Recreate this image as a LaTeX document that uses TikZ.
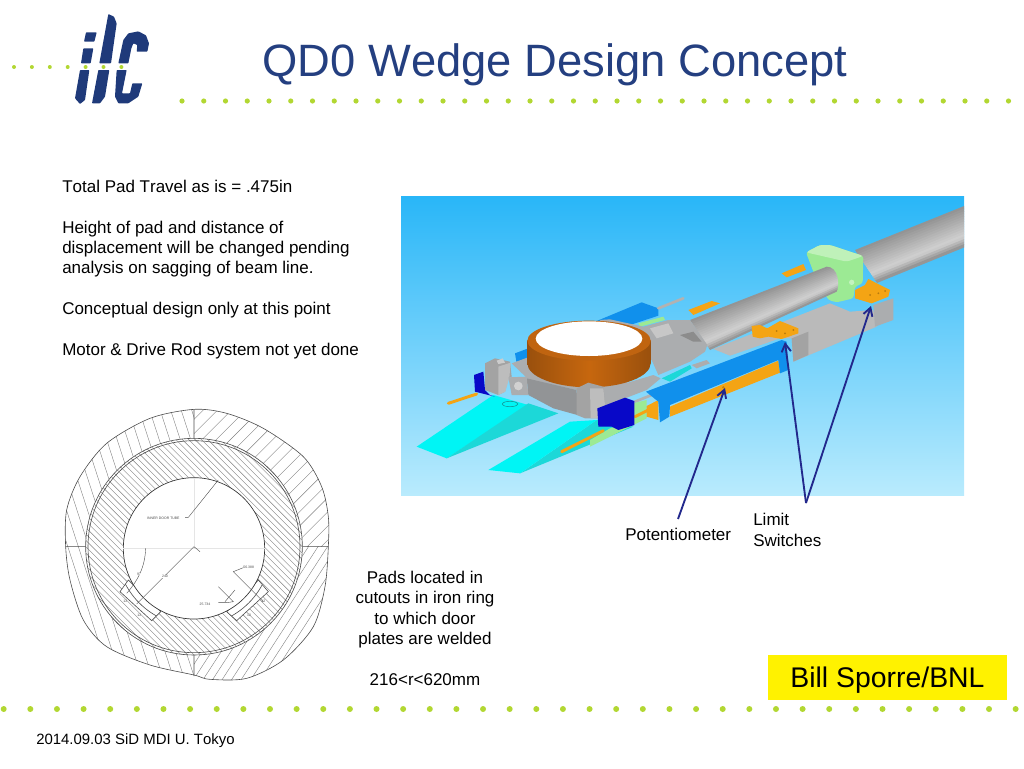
\documentclass[tikz,border=0pt]{standalone}
\usepackage{fontspec}
\setmainfont[Kerning=Off]{Liberation Sans}
\usetikzlibrary{positioning,arrows.meta}
\definecolor{ilcblue}{HTML}{1F3A7A}
\definecolor{titleblue}{HTML}{243F80}
\definecolor{dotgreen}{HTML}{B2D732}
\definecolor{skytop}{HTML}{29B6F8}
\definecolor{skylow}{HTML}{B9EBFD}
\definecolor{arrowblue}{HTML}{22288C}
\definecolor{padcyan}{HTML}{00F5F5}
\definecolor{paddark}{HTML}{1CD8D8}
\definecolor{barblue}{HTML}{1090EC}
\definecolor{blockblue}{HTML}{0808C8}
\definecolor{gold}{HTML}{F4A414}
\definecolor{brownrim}{HTML}{C06410}
\definecolor{collargreen}{HTML}{9CEA94}
\definecolor{greybody}{HTML}{ABADAF}
\definecolor{greywall}{HTML}{929496}
\tikzset{
  ilcpart/.style={fill=ilcblue, rounded corners=.5pt},
  dotmark/.style={fill=dotgreen},
  bodytext/.style={inner sep=0pt, align=left, font=\fontsize{12.75}{15.35}\selectfont},
  pointer/.style={draw=arrowblue, line width=1.4pt, -{Straight Barb[length=6pt,width=7pt]}},
  hatchline/.style={draw=black!50, line width=.3pt},
  outline/.style={draw=black!70, line width=.45pt},
  tinylabel/.style={inner sep=0pt, font=\fontsize{2.6}{3}\selectfont, text=black!70},
  dimline/.style={draw=black!70, line width=.3pt},
  greypart/.style={fill=greybody},
  goldrod/.style={draw=gold, line width=2.2pt, line cap=round},
  greyrod/.style={draw=black!30, line width=2pt, line cap=round}
}
% bands of grey across a tube: top left, top right, bottom right, bottom left
\newcommand{\tubebands}[8]{
  \foreach \s in {0,...,15}{
    \pgfmathsetmacro\ta{\s/16}
    \pgfmathsetmacro\tb{(\s+1.3)/16}
    \pgfmathsetmacro\tone{\ta<.72 ? 42-24*\ta/.72 : 18+30*(\ta-.72)/.28}
    \fill[black!\tone] ({#1+(#7-#1)*\ta},{#2+(#8-#2)*\ta}) -- ({#3+(#5-#3)*\ta},{#4+(#6-#4)*\ta}) -- ({#3+(#5-#3)*\tb},{#4+(#6-#4)*\tb}) -- ({#1+(#7-#1)*\tb},{#2+(#8-#2)*\tb}) -- cycle;
  }
}
\begin{document}
\begin{tikzpicture}[x=.75pt,y=-.75pt]
  \useasboundingbox (0,0) rectangle (1024,768);
  % rows of dots
  \foreach \i in {0,...,38} \fill[dotmark] ({182+21.75*\i},101) circle[radius=2.6];
  \foreach \i in {0,...,6} \fill[dotmark] ({14+17.9*\i},67) circle[radius=2];
  \foreach \i in {0,...,38} \fill[dotmark] ({3.7+26.63*\i},709) circle[radius=3];
  % logo
  \begin{scope}[scale=1/3]
    \fill[ilcpart] (258,97) -- (290,97) -- (283,125) -- (252,125) -- cycle;
    \fill[ilcpart] (250,145) -- (280,145) -- (272,190) -- (243,190) -- cycle;
    \fill[ilcpart] (240,210) -- (268,210) -- (255,300) -- (240,312) -- (225,295) -- cycle;
    \fill[ilcpart] (325,42) -- (342,50) -- (350,70) -- (333,190) -- (298,190) -- cycle;
    \fill[ilcpart] (295,210) -- (328,210) -- (315,290) -- (300,310) -- (276,310) -- cycle;
    \fill[ilcpart] (355,190) -- (370,120) -- (385,100) -- (415,94) -- (438,106) -- (447,130) -- (442,155) -- (410,155) -- (412,135) -- (400,130) -- (394,145) -- (385,190) -- cycle;
    \fill[ilcpart] (350,210) -- (380,210) -- (366,280) -- (390,280) -- (397,250) -- (427,250) -- (415,290) -- (385,310) -- (355,310) -- (345,290) -- cycle;
  \end{scope}
  \node[inner sep=0pt, text=titleblue, font=\fontsize{34}{36}\selectfont] (titletext) at (555,64.5) {QD0 Wedge Design Concept};
  % text on the left
  \node[bodytext, anchor=north west] (notes) at (62,179.5) {Total Pad Travel as is = .475in\\[15.35pt]Height of pad and distance of\\displacement will be changed pending\\analysis on sagging of beam line.\\[15.35pt]Conceptual design only at this point\\[15.35pt]Motor \& Drive Rod system not yet done};
  \node[bodytext, align=center, anchor=north] (padnote) at (425,570.5) {Pads located in\\cutouts in iron ring\\to which door\\plates are welded\\[15.35pt]216<r<620mm};
  \fill[yellow] (768,655) rectangle (1007,700);
  \node[inner sep=0pt, font=\fontsize{21.3}{24}\selectfont] (author) at (887.5,680) {Bill Sporre/BNL};
  \node[inner sep=0pt, anchor=west, font=\fontsize{11.2}{13}\selectfont] (footer) at (36,741) {2014.09.03 SiD MDI U. Tokyo};
  % model picture
  \shade[top color=skytop, bottom color=skylow] (401,196) rectangle (964,495);
  \begin{scope}
    \clip (401,196) rectangle (964,495);
    % tube, collar and plate
    \begin{scope}[shift={(680,195)},scale=1/3]
      \fill[gold] (305,235) -- (370,207) -- (378,225) -- (320,247) -- cycle;
      \fill[gold] (25,345) -- (95,318) -- (120,325) -- (40,360) -- cycle;
      \tubebands{525}{165}{860}{30}{860}{152}{590}{262}
      \fill[collargreen, rounded corners=2pt] (378,172) -- (420,150) -- (450,150) -- (550,183) -- (548,265) -- (525,275) -- (520,310) -- (470,322) -- (445,315) -- (400,230) -- cycle;
      \fill[white!35!collargreen, rounded corners=2pt] (378,172) -- (420,150) -- (450,150) -- (550,183) -- (500,200) -- cycle;
      \fill[white!40!collargreen] (515,262) circle[radius=8];
      \fill[black!27] (100,462) -- (450,325) -- (510,350) -- (580,345) -- (590,395) -- (340,500) -- (335,430) -- (300,430) -- (150,482) -- cycle;
      \fill[black!36] (335,430) -- (385,410) -- (385,480) -- (340,500) -- cycle;
      \fill[greypart] (580,330) -- (640,310) -- (640,375) -- (585,395) -- cycle;
      \begin{scope}
        \clip (30,375) -- (440,215) .. controls (475,215) and (480,270) .. (470,290) -- (90,465) -- cycle;
        \tubebands{30}{375}{470}{203}{480}{285}{90}{465}
      \end{scope}
      \fill[gold] (215,393) -- (240,390) -- (262,400) -- (300,378) -- (355,400) -- (355,415) -- (305,432) -- (265,425) -- (240,430) -- (218,425) -- cycle;
      \fill[gold!75!black] (290,408) circle[radius=3] (315,415) circle[radius=3] (340,405) circle[radius=3];
      \fill[gold] (525,285) -- (555,270) -- (565,252) -- (630,285) -- (625,305) -- (575,325) -- (525,310) -- cycle;
      \fill[gold!75!black] (570,300) circle[radius=3] (595,295) circle[radius=3] (615,288) circle[radius=3];
    \end{scope}
    % pads and the far bar
    \begin{scope}[shift={(400,195)},scale=1/3]
      \fill[barblue] (590,378) -- (725,322) -- (775,340) -- (775,362) -- (690,390) -- cycle;
      \draw[greyrod] (775,340) -- (850,310);
      \fill[collargreen] (715,385) -- (790,365) -- (795,375) -- (720,395) -- cycle;
      \fill[barblue] (345,475) -- (385,460) -- (385,490) -- (350,505) -- cycle;
      \fill[padcyan] (50,755) -- (280,600) -- (385,630) -- (140,790) -- cycle;
      \fill[paddark] (140,790) -- (475,655) -- (385,625) -- cycle;
      \fill[paddark!70!black] (330,627) ellipse[x radius=24, y radius=9];
      \fill[padcyan] (330,627) ellipse[x radius=21, y radius=7];
      \fill[paddark] (360,835) -- (700,695) -- (590,675) -- cycle;
      \fill[padcyan] (265,825) -- (510,680) -- (590,675) -- (360,835) -- cycle;
    \end{scope}
    % body behind the disc
    \begin{scope}[shift={(590,300)},scale=1/3]
      \fill[paddark] (215,235) -- (300,195) -- (305,205) -- (240,245) -- cycle;
      \fill[black!32] (305,195) -- (350,180) -- (360,190) -- (320,205) -- cycle;
      \fill[greypart] (30,60) -- (60,58) -- (160,80) -- (235,60) -- (300,60) -- (352,135) -- (345,155) -- (300,185) -- (205,225) -- (185,180) -- (100,190) -- cycle;
      \fill[black!22] (180,85) -- (235,70) -- (250,100) -- (200,115) -- cycle;
      \fill[black!45] (270,105) -- (310,95) -- (335,125) -- (310,125) -- cycle;
      \fill[greypart] (-10,285) -- (190,225) -- (212,235) -- (170,270) -- (45,318) -- (-10,330) -- cycle;
    \end{scope}
    \begin{scope}[shift={(470,340)},scale=1/3]
      \fill[greypart] (125,70) -- (180,50) -- (200,100) -- (320,140) -- (470,120) -- (480,150) -- (405,180) -- (320,150) -- (175,118) -- cycle;
      \fill[greywall] (170,115) -- (320,150) -- (322,225) -- (250,205) -- (175,165) -- cycle;
    \end{scope}
    % disc
    \begin{scope}[shift={(400,195)},scale=1/3]
      \shade[left color=brownrim!80!black, right color=brownrim!80!black, middle color=brownrim!90!orange] (382,437) rectangle (752,505);
      \shade[left color=brownrim!80!black, right color=brownrim!80!black, middle color=brownrim!90!orange] (567,505) ellipse[x radius=185, y radius=72];
      \fill[brownrim] (567,437) ellipse[x radius=185, y radius=60];
      \fill[white] (567,431) ellipse[x radius=160, y radius=52];
    \end{scope}
    % brackets in front
    \begin{scope}[shift={(470,340)},scale=1/3]
      \draw[goldrod] (-65,190) -- (20,162);
      \fill[blockblue] (12,105) -- (40,95) -- (45,150) -- (60,165) -- (75,170) -- (15,155) -- cycle;
      \fill[black!36] (45,70) -- (75,55) -- (120,65) -- (125,110) -- (115,115) -- (105,155) -- (85,165) -- (45,150) -- cycle;
      \fill[black!26] (85,80) -- (122,68) -- (118,113) -- (106,155) -- (85,165) -- cycle;
      \fill[black!20] (80,62) -- (98,55) -- (105,68) -- (85,72) -- cycle;
      \fill[greypart] (115,112) -- (170,110) -- (175,165) -- (125,165) -- cycle;
      \fill[black!18] (145,138) circle[radius=13];
      \fill[black!36] (320,145) -- (355,128) -- (400,140) -- (405,195) -- (385,235) -- (345,235) -- (320,225) -- cycle;
      \fill[black!26] (360,145) -- (400,145) -- (405,195) -- (385,235) -- (362,235) -- cycle;
    \end{scope}
    % bar, blocks and rods
    \begin{scope}[shift={(590,300)},scale=1/3]
      \draw[greyrod] (135,305) -- (185,285);
      \fill[collargreen] (60,395) -- (130,310) -- (170,300) -- (170,350) -- cycle;
      \fill[collargreen] (0,440) -- (170,355) -- (170,350) -- (60,385) -- (0,420) -- cycle;
      \draw[goldrod] (-85,455) -- (40,392);
      \draw[goldrod] (135,350) -- (185,325);
      \fill[blockblue] (22,325) -- (105,293) -- (133,303) -- (133,375) -- (85,390) -- (65,380) -- (25,380) -- cycle;
      \fill[gold] (170,318) -- (205,300) -- (205,360) -- (170,350) -- cycle;
      \fill[gold] (240,320) -- (565,182) -- (570,218) -- (240,350) -- cycle;
      \fill[gold!80!black] (400,262) circle[radius=4];
      \fill[barblue] (168,275) -- (575,120) -- (590,125) -- (595,210) -- (570,220) -- (565,180) -- (240,315) -- (238,350) -- (210,367) -- (205,305) -- cycle;
    \end{scope}
  \end{scope}
  % arrows and their labels
  \node[bodytext, anchor=west] (potlabel) at (625,534.5) {Potentiometer};
  \node[bodytext, anchor=north west] (switchlabel) at (753,513) {Limit\\Switches};
  \coordinate (pottail) at (678,519);
  \coordinate (pottip) at (725,388);
  \coordinate (switchtail) at (806,503);
  \coordinate (switchtipa) at (785,342);
  \coordinate (switchtipb) at (871,306);
  \draw[pointer] (pottail) -- (pottip);
  \draw[pointer] (switchtail) -- (switchtipa);
  \draw[pointer] (switchtail) -- (switchtipb);
  % drawing of the ring
  \begin{scope}[shift={(50,400)},scale=1/3]
    \def\blob{plot[smooth cycle] coordinates {(432,28) (530,40) (640,85) (760,170) (815,260) (835,350) (835,440) (825,560) (790,680) (700,780) (590,835) (480,838) (432,825) (300,795) (170,740) (100,660) (60,540) (47,440) (50,330) (90,230) (170,130) (300,55)}}
    \foreach \qx/\qy/\qa/\qs in {0/0/18/30, 432/0/-45/30, 0/440/18/30, 432/440/-33/24}{
      \begin{scope}
        \clip \blob;
        \clip (\qx,\qy) rectangle ++(432,440);
        \foreach \d in {-40,...,40}
          \draw[hatchline, rotate around={\qa:(432,440)}] ({432+\d*\qs},-300) -- ({432+\d*\qs},1200);
      \end{scope}
    }
    \draw[outline] \blob;
    \coordinate (qtop) at (432,28);
    \coordinate (qleft) at (47,440);
    \coordinate (qright) at (835,440);
    \coordinate (qbottom) at (432,828);
    \draw[outline] (qtop) -- (432,118) (qleft) -- (108,440) (qright) -- (757,440) (qbottom) -- (432,762);
    \fill[white] (432,440) circle[radius=325];
    \begin{scope}
      \clip (432,440) circle[radius=325];
      \foreach \d in {-50,...,50}
        \draw[hatchline, rotate around={-45:(432,440)}] (-300,{440+\d*13.5}) -- (1200,{440+\d*13.5});
    \end{scope}
    \draw[outline] (432,440) circle[radius=325] (432,440) circle[radius=318];
    % cutouts
    \fill[white, draw=black!70, line width=.45pt] (235,540) -- (210,575) -- (305,662) -- (332,635) -- cycle;
    \fill[white, draw=black!70, line width=.45pt] (625,540) -- (655,575) -- (560,662) -- (530,635) -- cycle;
    \begin{scope}
      \clip (235,540) -- (210,575) -- (305,662) -- (332,635) -- cycle (625,540) -- (655,575) -- (560,662) -- (530,635) -- cycle;
      \draw[outline] (432,445) circle[radius=232];
    \end{scope}
    \fill[white, draw=black!80, line width=.5pt] (432,445) circle[radius=212];
    \draw[black!10, line width=.2pt] (432,235) -- (432,445) (220,445) -- (645,445);
    % dimensions
    \draw[dimline] (505,240) -- (415,352) -- (405,352);
    \draw[dimline] (432,440) -- (260,612);
    \draw[dimline] (432,440) -- (450,455);
    \draw[dimline] (287,445) .. controls (285,500) and (265,540) .. (230,580);
    \draw[dimline] (580,503) -- (550,515) -- (640,605);
    \draw[dimline] (505,560) -- (550,605) -- (530,608) -- (505,608);
    \draw[dimline] (555,570) -- (525,605);
    \node[tinylabel] (doorlabel) at (340,355) {INNER DOOR TUBE};
    \node[tinylabel, fill=white] (radiuslabel) at (345,530) {240};
    \node[tinylabel, fill=white] (anglelabel) at (267,522) {97};
    \node[tinylabel] (widthlabel) at (596,503) {56.388};
    \node[tinylabel] (depthlabel) at (465,612) {25.734};
    \node[tinylabel] (padlabela) at (226,603) {12};
    \node[tinylabel] (padlabelb) at (268,646) {12};
    \node[tinylabel] (padlabelc) at (597,646) {12};
    \node[tinylabel] (padlabeld) at (640,604) {12};
  \end{scope}
\end{tikzpicture}
\end{document}
